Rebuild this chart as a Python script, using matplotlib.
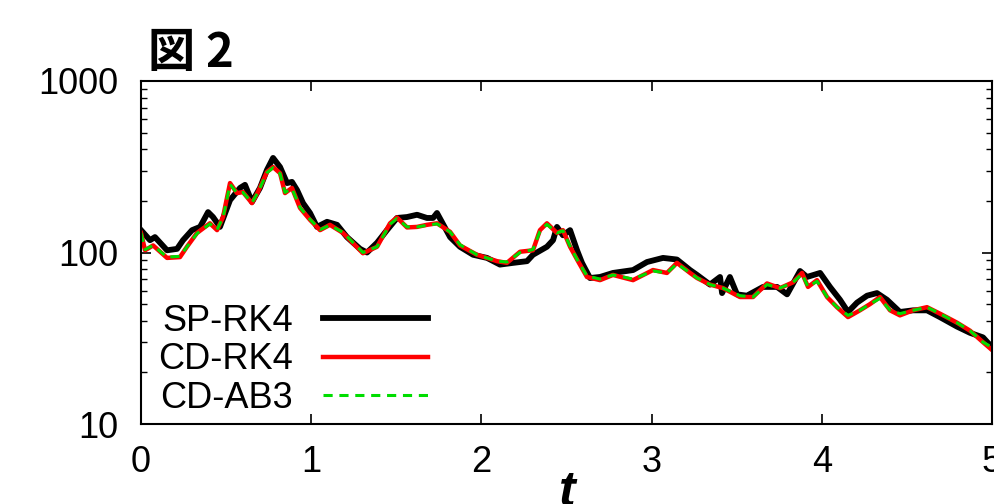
import matplotlib
matplotlib.use("Agg")
import matplotlib.pyplot as plt

plt.rcParams['font.family'] = ['Liberation Sans', 'DejaVu Sans']

# SP-RK4 (black)
t_sp = [0.0, 0.053, 0.082, 0.153, 0.212, 0.247, 0.300, 0.347, 0.394, 0.423,
        0.464, 0.523, 0.582, 0.611, 0.652, 0.699, 0.740, 0.776, 0.817, 0.858,
        0.887, 0.917, 0.952, 0.993, 1.034, 1.093, 1.152, 1.210, 1.287, 1.328,
        1.387, 1.445, 1.504, 1.563, 1.622, 1.680, 1.716, 1.739, 1.816, 1.874,
        1.951, 2.033, 2.109, 2.186, 2.268, 2.303, 2.385, 2.421, 2.444, 2.479,
        2.521, 2.562, 2.591, 2.638, 2.697, 2.773, 2.891, 2.973, 3.067, 3.149,
        3.226, 3.267, 3.343, 3.402, 3.414, 3.460, 3.502, 3.560, 3.655, 3.737,
        3.796, 3.872, 3.913, 3.990, 4.048, 4.107, 4.154, 4.207, 4.266, 4.324,
        4.383, 4.459, 4.536, 4.618, 4.694, 4.794, 4.871, 4.947, 5.0]
v_sp = [135, 118, 123, 103, 105, 118, 135, 141, 172, 161,
        141, 202, 238, 248, 197, 238, 303, 356, 315, 254,
        258, 231, 194, 170, 141, 151, 145, 123, 105, 100,
        114, 135, 159, 161, 166, 159, 159, 170, 123, 108,
        97, 93, 85, 87, 89, 97, 108, 118, 141, 126,
        135, 103, 87, 71, 72, 76, 79, 88, 93, 91,
        79, 74, 65, 72, 58, 72, 57, 56, 63, 63,
        57, 78, 72, 76, 63, 53, 45, 51, 56, 58,
        53, 45, 46, 46, 42, 37, 34, 32, 28]

# CD-RK4 (red)
t_rk = [0.0, 0.024, 0.071, 0.153, 0.229, 0.270, 0.329, 0.405, 0.447, 0.482,
        0.523, 0.564, 0.599, 0.652, 0.687, 0.740, 0.776, 0.817, 0.846, 0.887,
        0.934, 0.993, 1.052, 1.110, 1.187, 1.304, 1.387, 1.463, 1.504, 1.563,
        1.622, 1.680, 1.739, 1.816, 1.874, 1.974, 2.092, 2.150, 2.227, 2.303,
        2.344, 2.385, 2.444, 2.479, 2.521, 2.562, 2.620, 2.697, 2.773, 2.891,
        3.008, 3.090, 3.149, 3.226, 3.267, 3.343, 3.420, 3.519, 3.596, 3.678,
        3.754, 3.831, 3.884, 3.919, 3.972, 4.031, 4.089, 4.154, 4.224, 4.283,
        4.342, 4.401, 4.459, 4.536, 4.618, 4.694, 4.794, 4.871, 4.947, 5.0]
v_rk = [130, 103, 110, 93, 94, 108, 130, 148, 135, 161,
        254, 222, 225, 194, 225, 295, 315, 290, 222, 238,
        182, 155, 135, 145, 130, 99, 108, 148, 160, 140,
        141, 145, 148, 132, 110, 97, 89, 87, 101, 103,
        135, 148, 130, 135, 108, 91, 72, 69, 74, 69,
        79, 76, 87, 76, 71, 65, 62, 55, 55, 66,
        62, 67, 76, 63, 69, 55, 48, 42, 46, 50,
        55, 46, 43, 46, 48, 44, 39, 35, 30, 27]

# CD-AB3 (green dashed)
t_ab = t_rk
v_ab = [130, 104, 110, 94, 95, 108, 129, 147, 136, 160,
        250, 222, 224, 195, 224, 292, 312, 288, 224, 236,
        183, 156, 136, 144, 131, 100, 108, 146, 158, 141,
        141, 144, 147, 132, 111, 97, 89, 88, 100, 104,
        133, 146, 130, 134, 109, 91, 73, 70, 74, 70,
        78, 76, 86, 76, 71, 65, 62, 56, 55, 65,
        62, 67, 75, 63, 68, 55, 48, 43, 46, 50,
        54, 46, 44, 46, 48, 44, 39, 35, 30, 28]

fig = plt.figure(figsize=(9.95, 5.04), dpi=100)
ax = fig.add_axes([141/995, 80/504, (992-141)/995, (424-81)/504])

ax.plot(t_sp, v_sp, color='black', lw=4.2, label='SP-RK4')
ax.plot(t_rk, v_rk, color='#ff0000', lw=3.2, label='CD-RK4')
ax.plot(t_ab, v_ab, color='#00dd00', lw=2.2, dashes=(3, 2.2), label='CD-AB3')

ax.set_yscale('log')
ax.set_ylim(10, 1000)
ax.set_xlim(0, 5)
ax.set_xticks([0, 1, 2, 3, 4, 5])
ax.set_yticks([10, 100, 1000])
ax.set_yticklabels(['10', '100', '1000'])

for s in ax.spines.values():
    s.set_linewidth(1.5)
ax.tick_params(which='major', direction='in', length=7, width=1.2,
               labelsize=26, top=True, right=True)
ax.tick_params(axis='x', pad=15)
ax.tick_params(axis='y', pad=16)
ax.tick_params(which='minor', direction='in', length=4, width=1.0,
               top=True, right=True)

ax.legend(loc='lower left', bbox_to_anchor=(158/995, 80/504 + 8/504),
          bbox_transform=fig.transFigure, frameon=False, markerfirst=False,
          fontsize=26, handlelength=2.9, handletextpad=0.85,
          labelspacing=0.1, borderpad=0, borderaxespad=0)

fig.text(148/995, 1 - 67/504, '図 2', fontsize=34, fontweight='bold',
         family=['Noto Sans CJK JP', 'Liberation Sans'], va='baseline')
fig.text(567/995, 1 - 470/504, 't', fontsize=36, fontweight='bold',
         style='italic', ha='center', va='top')

fig.savefig('out.png', dpi=100)
